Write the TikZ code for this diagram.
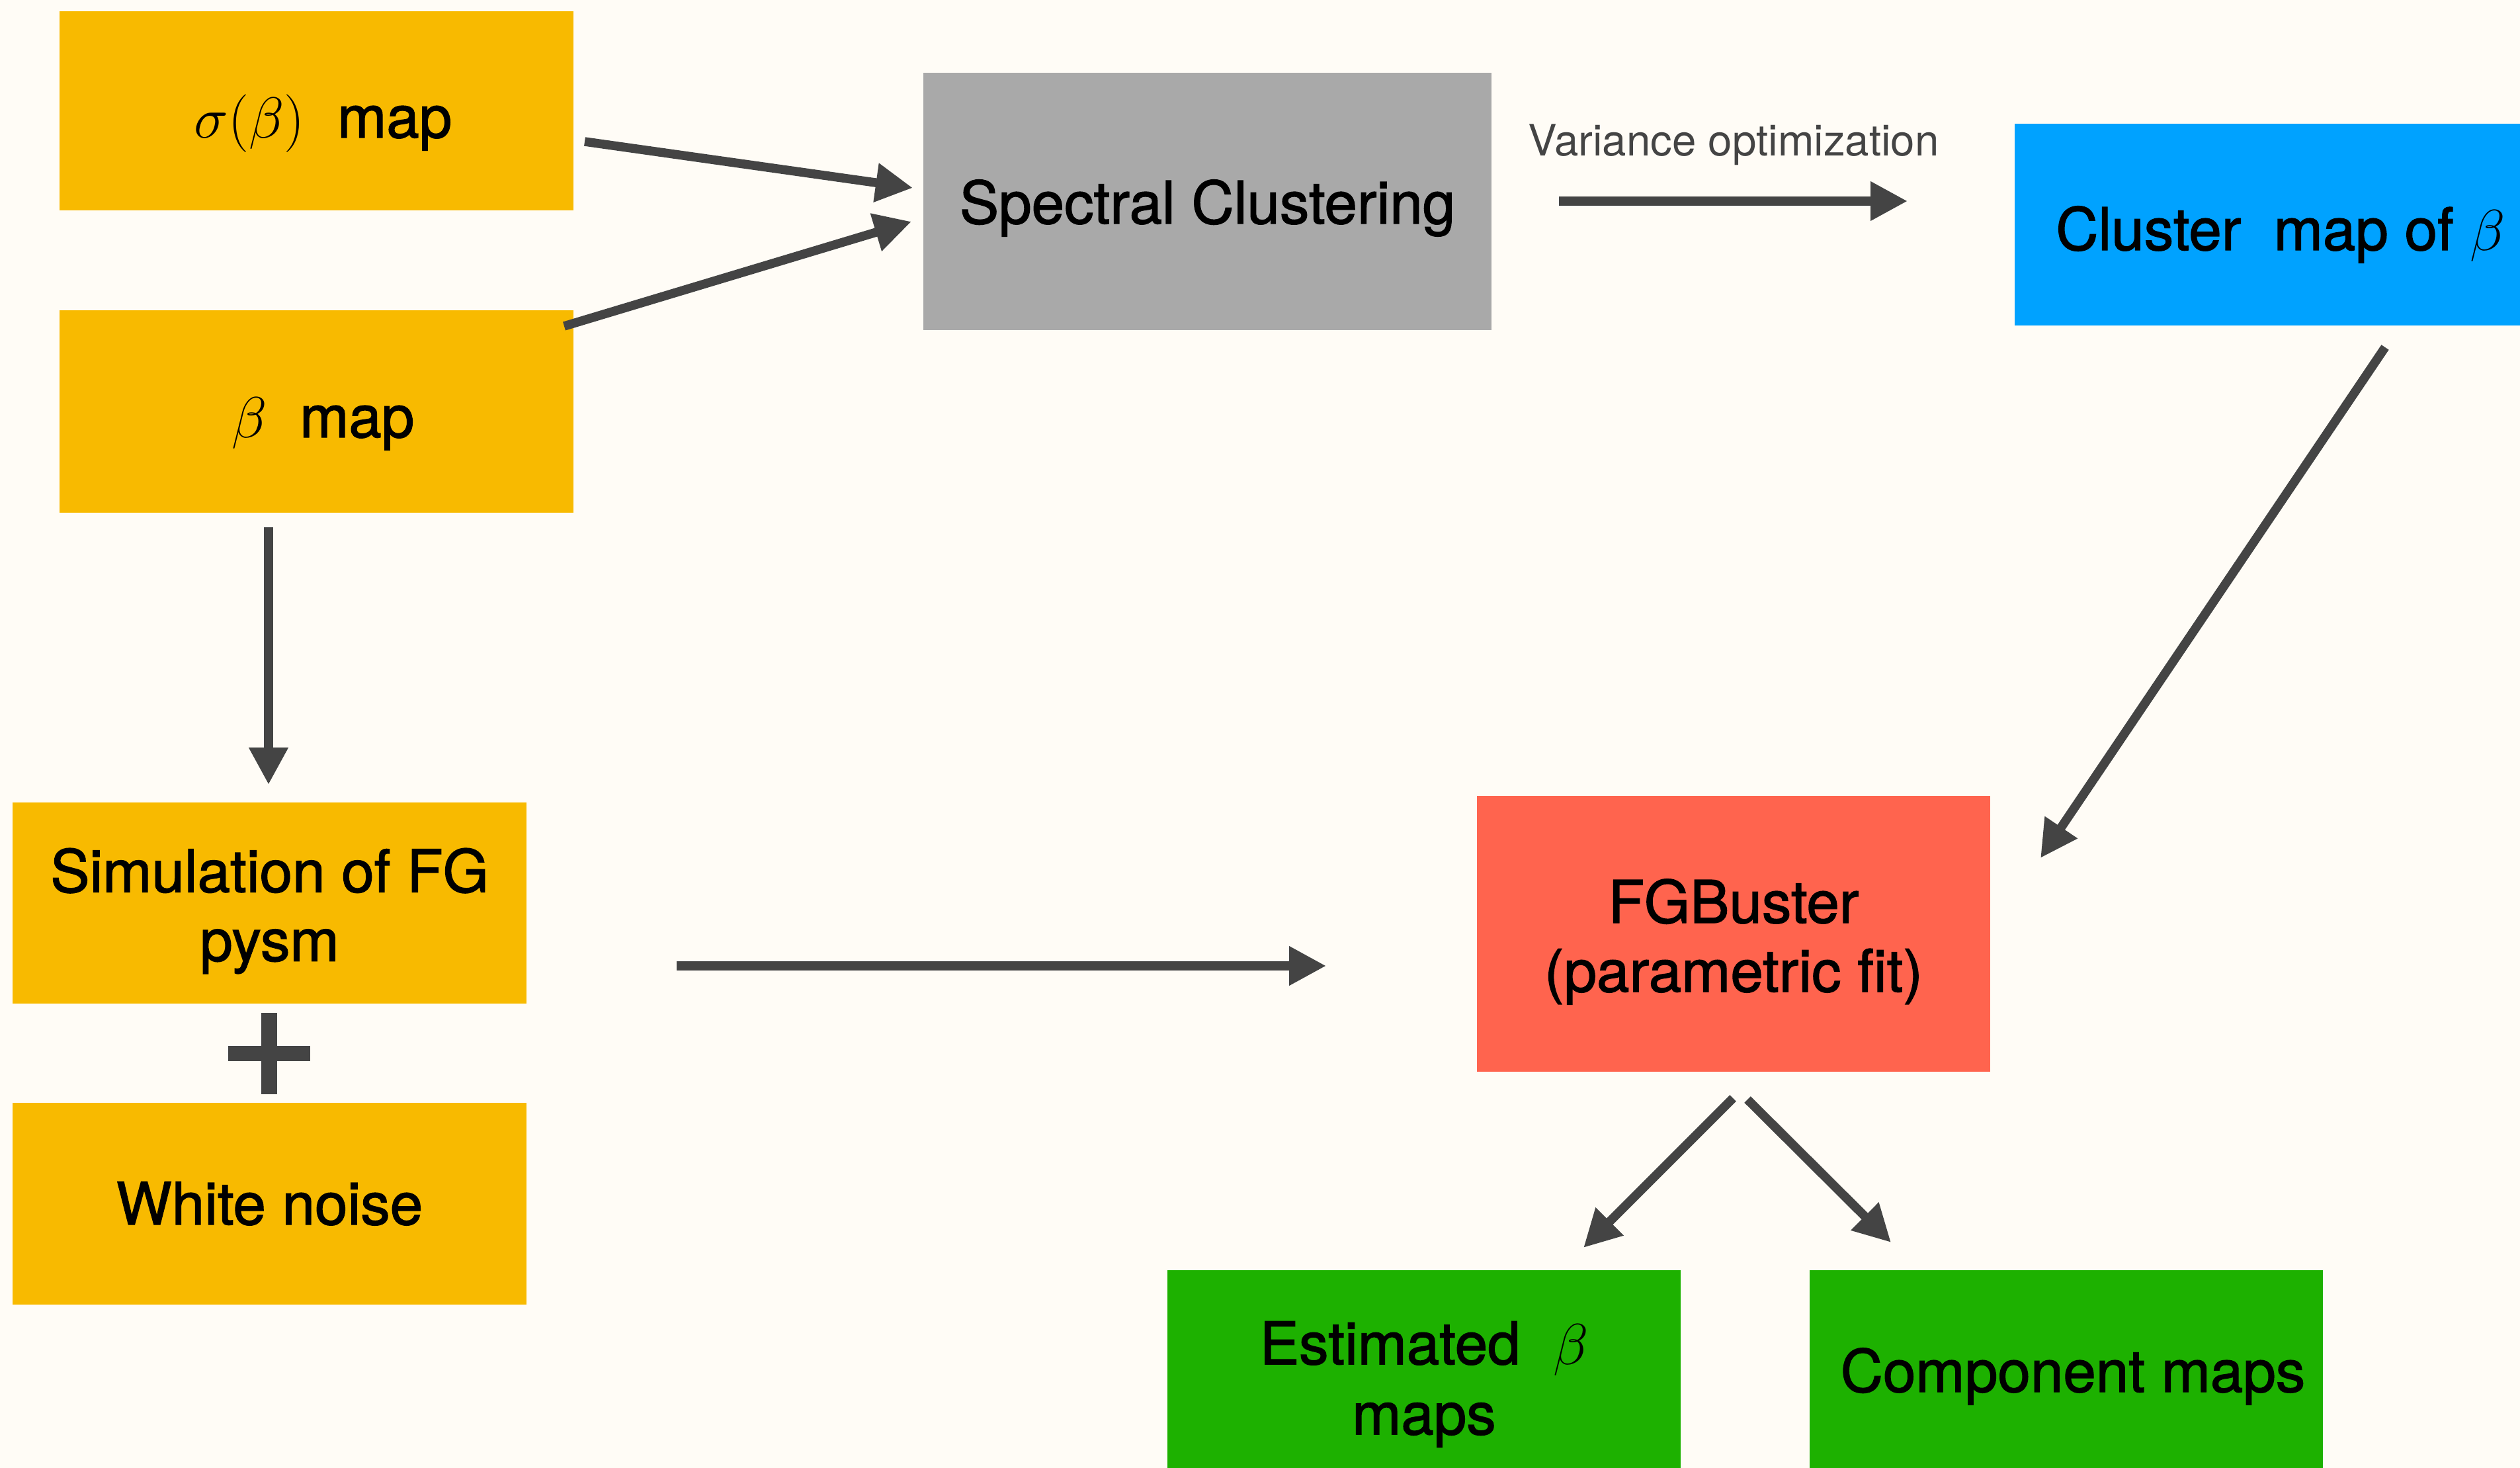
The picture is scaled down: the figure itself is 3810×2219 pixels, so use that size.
\documentclass[tikz,border=0pt]{standalone}
\usepackage{fontspec}
\setmainfont{TeX Gyre Heros}
\newfontfamily\boxfam{TeX Gyre Heros}[FakeBold=1.5]
\usetikzlibrary{arrows.meta}
\definecolor{bgc}{HTML}{FFFCF6}
\definecolor{yel}{HTML}{F8BA00}
\definecolor{gry}{HTML}{A9A9A9}
\definecolor{blu}{HTML}{00A2FF}
\definecolor{rdd}{HTML}{FF644E}
\definecolor{grn}{HTML}{1DB100}
\definecolor{arr}{HTML}{444444}
\newcommand{\boxfont}{\boxfam\fontsize{25.3}{29.6}\selectfont}
\newcommand{\mb}[1]{{\fontsize{29}{29}\selectfont$#1$}}
\tikzset{
  box/.style={rectangle, inner sep=0pt},
  boxtext/.style={inner sep=0pt, align=center, font=\boxfont, text=black},
  conn/.style={draw=arr, line width=0.135cm, -{Triangle[length=0.56cm, width=0.56cm]}},
}
\begin{document}
\begin{tikzpicture}[x=0.01cm, y=-0.01cm]
\useasboundingbox (0,0) rectangle (3810,2219);
\clip (0,0) rectangle (3810,2219);
\fill[bgc] (0,0) rectangle (3810,2219);

\node[box, fill=yel, minimum width=7.77cm, minimum height=3.01cm] (sigma) at (478.5,167.5) {};
\node[box, fill=yel, minimum width=7.77cm, minimum height=3.06cm] (beta) at (478.5,622) {};
\node[box, fill=gry, minimum width=8.59cm, minimum height=3.89cm] (sc) at (1825.5,304.5) {};
\node[box, fill=blu, minimum width=7.76cm, minimum height=3.05cm] (cluster) at (3434,339.5) {};
\node[box, fill=yel, minimum width=7.77cm, minimum height=3.04cm] (sim) at (407.5,1365) {};
\node[box, fill=yel, minimum width=7.77cm, minimum height=3.05cm] (noise) at (407.5,1819.5) {};
\node[box, fill=rdd, minimum width=7.76cm, minimum height=4.17cm] (fgb) at (2621,1411.5) {};
\node[box, fill=grn, minimum width=7.76cm, minimum height=3.05cm] (est) at (2153,2072.5) {};
\node[box, fill=grn, minimum width=7.76cm, minimum height=3.05cm] (comp) at (3124,2072.5) {};

\node[boxtext, anchor=base] (sigmat) at ([yshift=-0.405cm, xshift=0.1cm]sigma.center) {\mb{\sigma(\beta)}\ \ map};
\node[boxtext, anchor=base] (betat) at ([yshift=-0.39cm, xshift=0.1cm]beta.center) {\mb{\beta}\ \ map};
\node[boxtext, anchor=base] (sct) at ([yshift=-0.335cm]sc.center) {Spectral Clustering};
\node[boxtext, anchor=base] (clustert) at ([yshift=-0.385cm, xshift=0.14cm]cluster.center) {Cluster\ \ map of \mb{\beta}};
\node[boxtext] (simt) at ([yshift=-0.12cm]sim.center) {Simulation of FG\\pysm};
\node[boxtext, anchor=base] (noiset) at ([yshift=-0.315cm]noise.center) {White noise};
\node[boxtext] (fgbt) at ([yshift=-0.12cm]fgb.center) {FGBuster\\(parametric fit)};
\node[boxtext] (estt) at ([yshift=-0.2cm]est.center) {Estimated\ \ \mb{\beta}\\[0.02cm]maps};
\node[boxtext, anchor=base] (compt) at ([yshift=-0.315cm, xshift=0.1cm]comp.center) {Component maps};

\node[font=\fontsize{18.6}{21}\selectfont, text=arr, inner sep=0pt] (varlab) at (2621,219) {Variance optimization};

% plus sign
\fill[arr] (345,1581) rectangle (469,1604);
\fill[arr] (395,1531) rectangle (419,1654);

% connectors
\coordinate (a1s) at (884,214);   \coordinate (a1e) at (1380,284);
\coordinate (a2s) at (853,493);   \coordinate (a2e) at (1378,335);
\coordinate (a3s) at (2357,304);  \coordinate (a3e) at (2884,304);
\coordinate (a4s) at (406,797);   \coordinate (a4e) at (406,1186);
\coordinate (a5s) at (1023,1460); \coordinate (a5e) at (2005,1460);
\coordinate (a6s) at (3606,525);  \coordinate (a6e) at (3085,1297);
\coordinate (a7s) at (2620,1660); \coordinate (a7e) at (2394,1886);
\coordinate (a8s) at (2642,1662); \coordinate (a8e) at (2859,1878);

\draw[conn] (a1s) -- (a1e);
\draw[conn] (a2s) -- (a2e);
\draw[conn] (a3s) -- (a3e);
\draw[conn] (a4s) -- (a4e);
\draw[conn] (a5s) -- (a5e);
\draw[conn] (a6s) -- (a6e);
\draw[conn] (a7s) -- (a7e);
\draw[conn] (a8s) -- (a8e);
\end{tikzpicture}
\end{document}
